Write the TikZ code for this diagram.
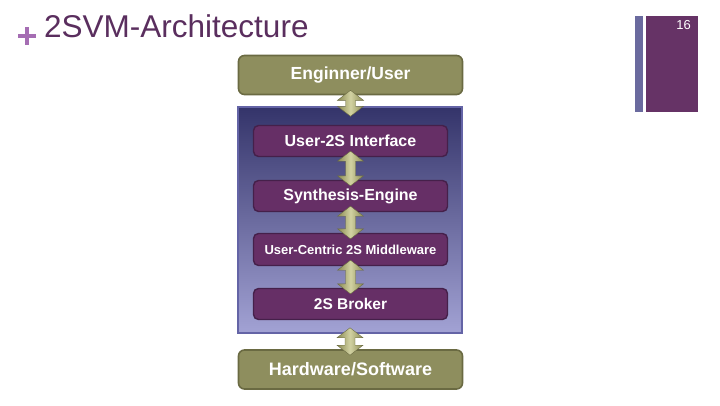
\documentclass[tikz,border=0pt]{standalone}
\usepackage{fontspec}
\setmainfont{Liberation Sans}
\usetikzlibrary{calc}
\definecolor{titlepurple}{HTML}{5A2E5E}
\definecolor{pluspurple}{HTML}{A56DB3}
\definecolor{barblue}{HTML}{6A6A9E}
\definecolor{barpurple}{HTML}{663366}
\definecolor{olivefill}{HTML}{8E8E5E}
\definecolor{olivedraw}{HTML}{6A6A42}
\definecolor{olivelight}{HTML}{D2D2A2}
\definecolor{olivedark}{HTML}{8A8A52}
\definecolor{boxpurple}{HTML}{662F66}
\definecolor{boxborder}{HTML}{45204A}
\definecolor{paneltop}{HTML}{34346A}
\definecolor{panelbot}{HTML}{A2A2D4}
\definecolor{panelborder}{HTML}{6464A6}
\tikzset{
  outerbox/.style={draw=olivedraw, fill=olivefill, line width=1.6pt, rounded corners=6pt,
    minimum width=224pt, minimum height=39pt, text=white, font=\bfseries\fontsize{17.5}{20}\selectfont},
  innerbox/.style={draw=boxborder, fill=boxpurple, line width=1.4pt, rounded corners=5pt,
    minimum width=194pt, minimum height=31pt, text=white, font=\bfseries\fontsize{16}{18}\selectfont},
  panelbox/.style={draw=panelborder, line width=1.5pt, top color=paneltop, bottom color=panelbot,
    minimum width=224pt, minimum height=226pt},
  dblarrowstyle/.style={draw=olivedraw, line width=0.4pt, left color=olivedark, right color=olivedark, middle color=olivelight}
}
\newcommand{\dblarrow}[2]{%
  \path[dblarrowstyle] let \p1=#1, \p2=#2 in
    (\x1,\y1) -- (\x1+13pt,\y1-10pt) -- (\x1+5pt,\y1-10pt) -- (\x1+5pt,\y2+10pt)
    -- (\x1+13pt,\y2+10pt) -- (\x1,\y2) -- (\x1-13pt,\y2+10pt) -- (\x1-5pt,\y2+10pt)
    -- (\x1-5pt,\y1-10pt) -- (\x1-13pt,\y1-10pt) -- cycle;}
\begin{document}
\begin{tikzpicture}[x=1pt,y=-1pt]
\useasboundingbox[fill=white] (0,0) rectangle (720,405);
% header
\fill[pluspurple] (18,34) rectangle (36,38);
\fill[pluspurple] (25,27) rectangle (29,45);
\node[anchor=base west, inner sep=0pt, text=titlepurple, font=\fontsize{31.5}{34}\selectfont] (title) at (44,37) {2SVM-Architecture};
\fill[barblue] (635,16) rectangle (643,112);
\fill[barpurple] (646,16) rectangle (698,112);
\node[anchor=base east, inner sep=0pt, text=white, font=\fontsize{13}{15}\selectfont] (pnum) at (691,29) {16};
% diagram
\node[panelbox] (panel) at (350,220) {};
\node[outerbox] (eng) at (350.5,75) {Enginner/User};
\node[outerbox, font=\bfseries\fontsize{18}{20}\selectfont] (hw) at (350.5,369.5) {Hardware/Software};
\node[innerbox] (ui) at (350.5,141) {User-2S Interface};
\node[innerbox] (se) at (350.5,196) {Synthesis-Engine};
\node[innerbox, minimum height=32pt, font=\bfseries\fontsize{13}{15}\selectfont] (mw) at (350.5,249.5) {User-Centric 2S Middleware};
\node[innerbox, font=\bfseries\fontsize{15.5}{18}\selectfont] (br) at (350.5,304) {2S Broker};
% arrows
\dblarrow{($(eng.south)+(0,-5)$)}{($(panel.north)+(0,10)$)}
\dblarrow{($(ui.south)+(0,-6)$)}{($(se.north)+(0,6)$)}
\dblarrow{($(se.south)+(0,-6)$)}{($(mw.north)+(0,6)$)}
\dblarrow{($(mw.south)+(0,-6)$)}{($(br.north)+(0,6)$)}
\dblarrow{($(panel.south)+(0,-6)$)}{($(hw.north)+(0,6)$)}
\end{tikzpicture}
\end{document}
